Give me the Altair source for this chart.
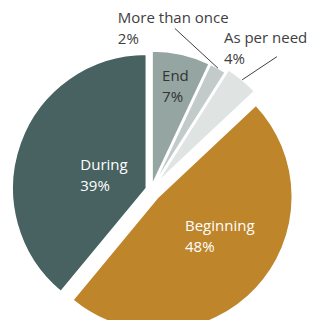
import math
import altair as alt
import pandas as pd

# ---- data ----
categories = ["End", "More than once", "As per need", "Beginning", "During"]
percents = [7, 2, 4, 48, 39]

# ---- style ----
slice_colors = ["#95A5A1", "#C2CBCA", "#DFE4E3", "#BE852B", "#476260"]
text_colors = ["#333333", "#404040", "#404040", "#FFFFFF", "#FFFFFF"]
explode = [5, 5, 9, 10, 5]            # px pulled out along mid-angle
label_r = [105.8, 184.4, 183.4, 67.9, 42.2]
label_dx = [-12, -122, -44, -15.5, -31]
has_leader = [False, True, True, False, False]
leader_dx = [0, 57, 53, 0, 0]
leader_dy = [0, 0, 8, 0, 0]
CX, CY, R = 143, 182, 134
LINE_H = 21

rows = []
cum = 0
for i, (c, p) in enumerate(zip(categories, percents)):
    start, end = cum, cum + p
    cum = end
    mid = (start + end) / 2 / 100 * 2 * math.pi
    sx, cx_ = math.sin(mid), math.cos(mid)
    cx = CX + explode[i] * sx
    cy = CY - explode[i] * cx_
    lx = CX + label_r[i] * sx + label_dx[i]
    ly = CY - label_r[i] * cx_
    rows.append(dict(
        cat=c, pct=p, start=start, end=end, cx=cx, cy=cy,
        label=f"{c}\n{p}%", lx=lx, ly=ly - LINE_H / 2, tcolor=text_colors[i],
        leader=has_leader[i],
        l1x=lx + leader_dx[i], l1y=ly + leader_dy[i],
        l2x=CX + (R + explode[i]) * sx, l2y=CY - (R + explode[i]) * cx_,
    ))
df = pd.DataFrame(rows)
base = alt.Chart(df)

theta_scale = alt.Scale(domain=[0, 100], range=[0, 2 * math.pi])

arcs = base.mark_arc(outerRadius=R, stroke="white", strokeWidth=1.5).encode(
    theta=alt.Theta("start:Q", scale=theta_scale),
    theta2="end:Q",
    x=alt.X("cx:Q", scale=None),
    y=alt.Y("cy:Q", scale=None),
    color=alt.Color("cat:N", scale=alt.Scale(domain=categories, range=slice_colors), legend=None),
)

labels = base.mark_text(
    align="left", baseline="middle", fontSize=15, font="Open Sans",
    lineBreak="\n", lineHeight=LINE_H,
).encode(
    x=alt.X("lx:Q", scale=None),
    y=alt.Y("ly:Q", scale=None),
    text="label:N",
    color=alt.Color("tcolor:N", scale=None),
)

leaders = base.transform_filter("datum.leader").mark_rule(color="#404040", strokeWidth=1).encode(
    x=alt.X("l1x:Q", scale=None),
    y=alt.Y("l1y:Q", scale=None),
    x2="l2x:Q",
    y2="l2y:Q",
)

chart = alt.layer(arcs, leaders, labels).properties(
    width=304, height=312, autosize="none", padding=0
).configure_view(stroke=None)

chart.save("out.html", embed_options={"renderer": "svg", "actions": False})
